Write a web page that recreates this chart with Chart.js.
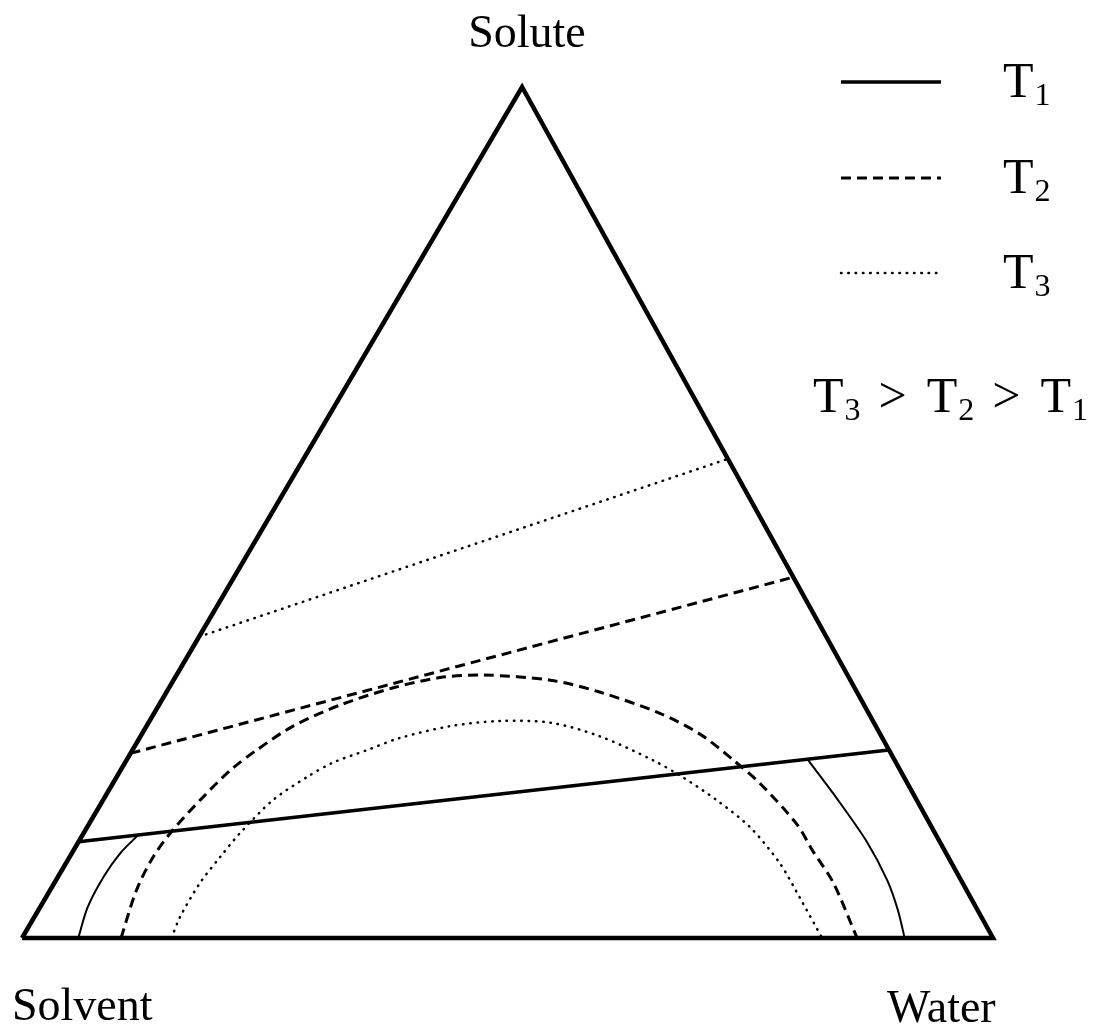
<!DOCTYPE html>
<html>
<head>
<meta charset="utf-8">
<title>Ternary phase diagram</title>
<script src="https://cdn.jsdelivr.net/npm/chart.js@4.4.0/dist/chart.umd.min.js"></script>
<style>
  html, body { margin: 0; padding: 0; background: #fff; }
  #wrap { width: 1095px; height: 1029px; }
</style>
</head>
<body>
<div id="wrap"><canvas id="diagram" width="1095" height="1029"></canvas></div>
<script>
// compositions in % as [water, solute]; solvent is what is left
const frame = [[0, 0], [100, 0], [0, 100], [0, 0]];

const tieT1 = [[0, 11.3], [77.9, 22.1]];
const tieT2 = [[0, 21.7], [57.6, 42.4]];
const tieT3 = [[0, 35.4], [43.7, 56.3]];

// T1 binodal, only the two pieces under its tie line
const binodalT1Left = [[5.8, 0], [4.9, 3.6], [4.7, 7.2], [5.0, 10.0], [5.7, 12.0]];
const binodalT1Right = [[70.2, 20.9], [75.7, 16.2], [81.3, 11.2], [85.6, 6.8], [88.5, 3.3], [90.9, 0]];

const binodalT2 = [
  [10.2, 0], [8.9, 5.6], [8.6, 9.5], [9.0, 12.7], [10.0, 16.2], [11.3, 19.7],
  [12.8, 22.1], [15.1, 24.9], [18.7, 27.4], [23.1, 29.4], [27.3, 30.6], [31.6, 30.9],
  [38.8, 30.3], [44.6, 28.9], [52.1, 26.4], [57.6, 23.9], [62.5, 20.9], [66.6, 18.2],
  [73.0, 13.3], [76.1, 10.3], [80.2, 6.5], [86.0, 0]
];

const binodalT3 = [
  [15.4, 0], [15.0, 2.5], [15.0, 6.5], [15.5, 9.5], [16.1, 12.3], [17.5, 16.2],
  [19.6, 18.9], [21.4, 20.6], [24.2, 22.1], [26.8, 23.5], [31.3, 24.9], [36.1, 25.5],
  [41.4, 25.3], [47.3, 23.7], [54.2, 20.9], [58.3, 18.9], [63.2, 16.2], [68.3, 13.0],
  [73.5, 8.8], [77.6, 4.8], [82.4, 0]
];

const cornerLabels = ['Solute', 'Solvent', 'Water'];
const legendLabels = ['1', '2', '3'];

// the apex is drawn a little right of the base midpoint
const apexShift = 0.515;

function toXY(points) {
  return points.map(([w, s]) => ({ x: w / 100 + apexShift * s / 100, y: s / 100 }));
}

const DASH = [10, 6];
const DOT = [0.5, 6.8];

function serie(points, width, dash, tension) {
  return {
    data: toXY(points),
    showLine: true,
    borderColor: '#000',
    borderWidth: width,
    borderDash: dash || [],
    borderCapStyle: dash === DOT ? 'round' : 'butt',
    borderJoinStyle: 'miter',
    pointRadius: 0,
    fill: false,
    tension: tension || 0,
    clip: false
  };
}

// subscripted T, returns x where it ends
function drawT(ctx, x, y, digit) {
  ctx.font = '50px "Liberation Serif"';
  ctx.fillText('T', x, y);
  const w = ctx.measureText('T').width;
  ctx.font = '32px "Liberation Serif"';
  ctx.fillText(digit, x + w + 1, y + 8);
  return x + w + 1 + ctx.measureText(digit).width;
}

const labelsPlugin = {
  id: 'labels',
  afterDraw(chart) {
    const ctx = chart.ctx;
    ctx.save();
    ctx.fillStyle = '#000';
    ctx.textBaseline = 'alphabetic';

    ctx.font = '46px "Liberation Serif"';
    ctx.textAlign = 'center';
    ctx.fillText(cornerLabels[0], 527, 47);
    ctx.textAlign = 'left';
    ctx.fillText(cornerLabels[1], 12, 1020);
    ctx.fillText(cornerLabels[2], 887, 1022);

    // legend samples
    const rows = [82, 178, 273];
    const dashes = [[], DASH, DOT];
    const widths = [3.5, 3, 2.5];
    rows.forEach((y, i) => {
      ctx.beginPath();
      ctx.setLineDash(dashes[i]);
      ctx.lineWidth = widths[i];
      ctx.lineCap = i === 2 ? 'round' : 'butt';
      ctx.moveTo(841, y);
      ctx.lineTo(941, y);
      ctx.stroke();
      drawT(ctx, 1003, y + 15, legendLabels[i]);
    });
    ctx.setLineDash([]);

    // T3 > T2 > T1
    let x = 813;
    const order = ['3', '2', '1'];
    order.forEach((d, i) => {
      x = drawT(ctx, x, 412, d);
      if (i < order.length - 1) {
        ctx.font = '50px "Liberation Serif"';
        x += 18;
        ctx.fillText('>', x, 412);
        x += ctx.measureText('>').width + 20;
      }
    });
    ctx.restore();
  }
};

new Chart(document.getElementById('diagram'), {
  type: 'scatter',
  data: {
    datasets: [
      serie(frame, 4.5),
      serie(tieT1, 3.5),
      serie(binodalT1Left, 2, null, 0.3),
      serie(binodalT1Right, 2, null, 0.3),
      serie(tieT2, 3, DASH),
      serie(binodalT2, 3, DASH, 0.3),
      serie(tieT3, 2.5, DOT),
      serie(binodalT3, 2.5, DOT, 0.3)
    ]
  },
  options: {
    responsive: false,
    animation: false,
    layout: { padding: { left: 22, right: 102, top: 87, bottom: 91 } },
    scales: {
      x: { type: 'linear', min: 0, max: 1, display: false },
      y: { type: 'linear', min: 0, max: 1, display: false }
    },
    plugins: {
      legend: { display: false },
      tooltip: { enabled: false }
    }
  },
  plugins: [labelsPlugin]
});
</script>
</body>
</html>
